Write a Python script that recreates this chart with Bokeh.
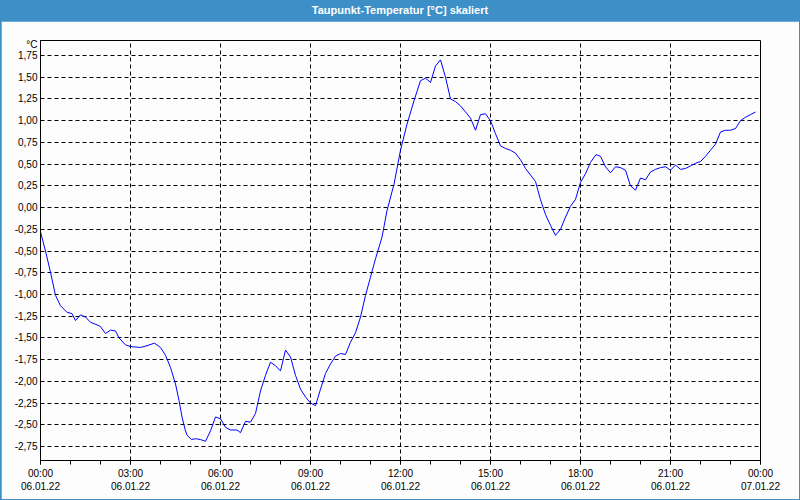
from bokeh.plotting import figure
from bokeh.models import Div, FixedTicker, CustomJSTickFormatter
from bokeh.layouts import column
from bokeh.embed import file_html
from bokeh.resources import INLINE

# ---- data ----
minutes = [0, 10, 20, 30, 40, 53, 63, 70, 80, 90, 100, 113, 120, 130, 140, 150, 157, 170, 180, 200,
           213, 228, 240, 250, 260, 270, 277, 283, 289, 293, 302, 310, 320, 330, 340, 350, 360, 370,
           380, 393, 400, 410, 420, 430, 440, 450, 460, 470, 480, 490, 500, 510, 520, 530, 540, 550,
           560, 570, 580, 590, 600, 610, 620, 630, 640, 650, 660, 670, 683, 693, 707, 720, 733, 747,
           760, 770, 780, 790, 800, 810, 820, 830, 840, 850, 860, 870, 880, 890, 900, 910, 920, 930,
           940, 950, 960, 970, 980, 990, 1000, 1010, 1020, 1030, 1040, 1050, 1060, 1070, 1080, 1090,
           1100, 1111, 1120, 1130, 1140, 1150, 1160, 1170, 1180, 1190, 1200, 1210, 1220, 1230, 1240,
           1250, 1260, 1270, 1280, 1290, 1300, 1310, 1320, 1330, 1340, 1350, 1360, 1370, 1380, 1390,
           1400, 1410, 1420, 1430]
dewpoint = [-0.28, -0.50, -0.745, -1.01, -1.13, -1.205, -1.22, -1.30, -1.235, -1.26, -1.32, -1.35,
            -1.37, -1.45, -1.41, -1.42, -1.50, -1.58, -1.60, -1.61, -1.59, -1.56, -1.61, -1.70, -1.84,
            -2.03, -2.22, -2.41, -2.55, -2.62, -2.67, -2.66, -2.67, -2.69, -2.57, -2.41, -2.43, -2.53,
            -2.56, -2.56, -2.59, -2.46, -2.47, -2.37, -2.11, -1.93, -1.78, -1.82, -1.88, -1.64, -1.72,
            -1.93, -2.09, -2.18, -2.25, -2.28, -2.09, -1.91, -1.80, -1.71, -1.68, -1.69, -1.55, -1.44,
            -1.26, -1.01, -0.80, -0.59, -0.34, -0.035, 0.27, 0.66, 0.96, 1.23, 1.46, 1.49, 1.44, 1.63,
            1.70, 1.50, 1.25, 1.22, 1.17, 1.10, 1.03, 0.89, 1.07, 1.08, 1.00, 0.85, 0.71, 0.68, 0.66,
            0.625, 0.55, 0.45, 0.375, 0.30, 0.09, -0.08, -0.205, -0.32, -0.25, -0.11, 0.015, 0.095,
            0.29, 0.39, 0.52, 0.61, 0.59, 0.47, 0.40, 0.47, 0.46, 0.43, 0.25, 0.20, 0.34, 0.32, 0.41,
            0.44, 0.46, 0.47, 0.43, 0.49, 0.44, 0.45, 0.48, 0.51, 0.53, 0.59, 0.66, 0.73, 0.87, 0.89,
            0.89, 0.91, 1.00, 1.04, 1.07, 1.10]
x_tick_hours = [0, 3, 6, 9, 12, 15, 18, 21, 24]
x_time_labels = ["00:00", "03:00", "06:00", "09:00", "12:00", "15:00", "18:00", "21:00", "00:00"]
x_date_labels = ["06.01.22"] * 8 + ["07.01.22"]
y_ticks = [-2.75, -2.5, -2.25, -2.0, -1.75, -1.5, -1.25, -1.0, -0.75, -0.5, -0.25,
           0.0, 0.25, 0.5, 0.75, 1.0, 1.25, 1.5, 1.75]
unit_label = "°C"
unit_pos = 1.877
title_text = "Taupunkt-Temperatur [°C] skaliert"

hours = [m / 60 for m in minutes]

BG = "#fcfdfc"
BLUE = "#3c8fc7"
FONT = "Liberation Sans"

title = Div(text=title_text, width=800, height=21, margin=(0, 0, 0, 0),
            styles={"background-color": BLUE, "color": "white", "font-family": FONT,
                    "font-size": "11px", "font-weight": "bold", "text-align": "center",
                    "line-height": "21px", "width": "800px", "height": "21px"})

p = figure(width=798, height=478, x_range=(0, 24), y_range=(-2.911, 1.923),
           output_backend="svg", toolbar_location=None, title=None,
           min_border_left=39, min_border_right=39, min_border_top=19, min_border_bottom=39,
           background_fill_color=BG, border_fill_color=BG,
           outline_line_color="black", outline_line_width=1, margin=(0, 1, 1, 1))

p.line(hours, dewpoint, line_color="#0000ff", line_width=1)

# x axis
p.xaxis.ticker = FixedTicker(ticks=x_tick_hours, minor_ticks=list(range(0, 25)))
p.xaxis.formatter = CustomJSTickFormatter(args=dict(times=x_time_labels, dates=x_date_labels),
                                          code="const i = Math.round(tick / 3); return times[i] + '\\n' + dates[i];")
p.xaxis.major_tick_out = 4
p.xaxis.major_tick_in = 0
p.xaxis.minor_tick_out = 4
p.xaxis.minor_tick_in = 0
p.xaxis.major_label_standoff = 3
p.xgrid.ticker = FixedTicker(ticks=x_tick_hours)

# y axis
p.yaxis.ticker = FixedTicker(ticks=y_ticks + [unit_pos])
p.yaxis.formatter = CustomJSTickFormatter(args=dict(unit=unit_label),
                                          code="if (tick > 1.8) { return unit; } return tick.toFixed(2).replace('.', ',');")
p.yaxis.major_tick_out = 0
p.yaxis.major_tick_in = 0
p.yaxis.minor_tick_out = 0
p.yaxis.minor_tick_in = 0
p.yaxis.major_label_standoff = 3
p.ygrid.ticker = FixedTicker(ticks=y_ticks)

for ax in (p.xaxis, p.yaxis):
    ax.axis_line_color = "black"
    ax.major_tick_line_color = "black"
    ax.minor_tick_line_color = "black"
    ax.major_label_text_font = FONT
    ax.major_label_text_font_size = "10px"
    ax.major_label_text_color = "#000000"

for g in (p.xgrid, p.ygrid):
    g.grid_line_color = "black"
    g.grid_line_dash = "4 3"
    g.grid_line_width = 1
    g.grid_line_alpha = 1.0

layout = column(title, p, styles={"background-color": BLUE}, spacing=0)

open("out.html", "w").write(file_html(layout, INLINE))
